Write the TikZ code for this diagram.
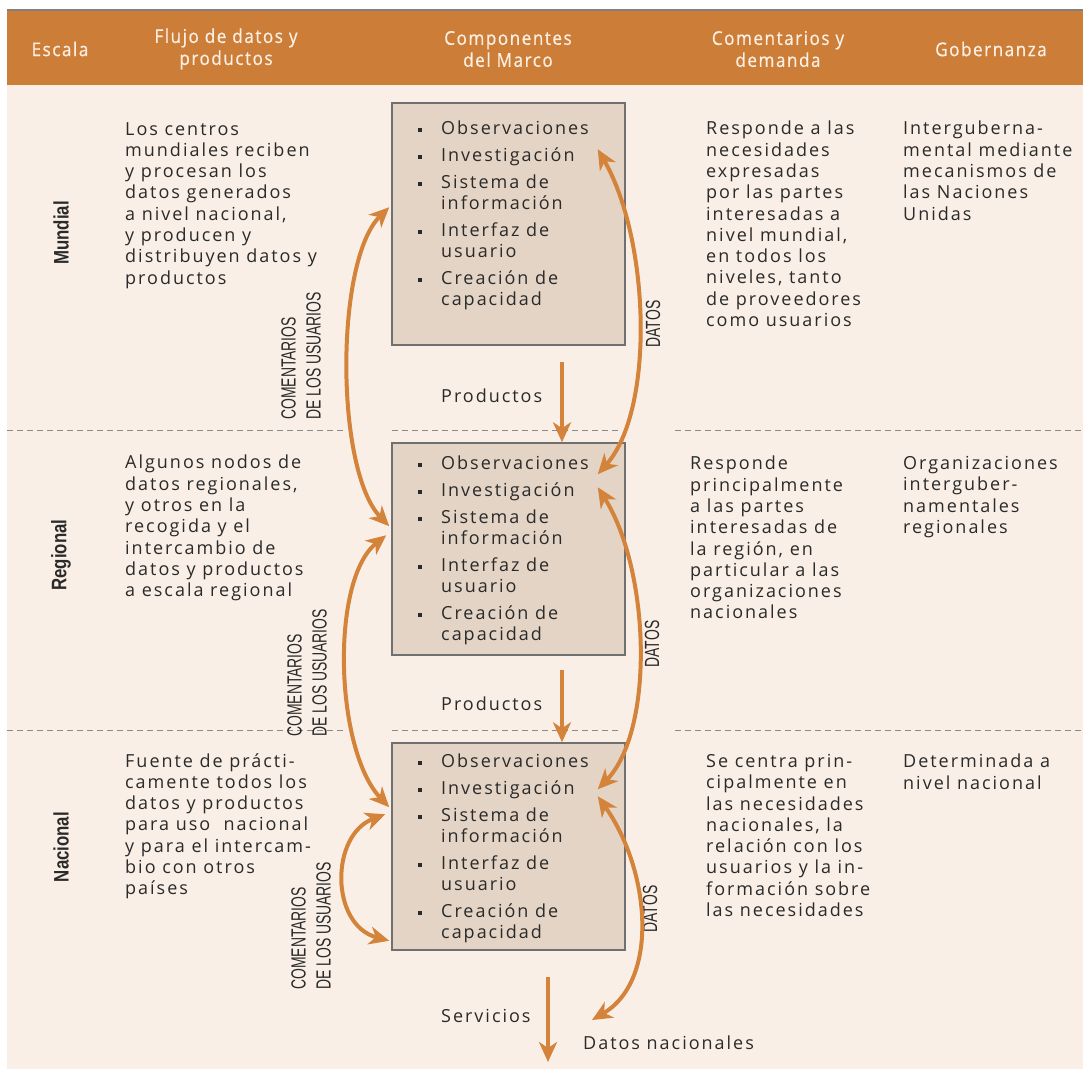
\documentclass[tikz,border=0pt]{standalone}
\usepackage{fontspec}
\setmainfont[LetterSpace=11]{Open Sans}
\newfontfamily\hdfont[FakeStretch=0.9,LetterSpace=8,FakeBold=0.6]{Open Sans}
\newfontfamily\cfont[FakeStretch=0.68]{Liberation Sans}
\newfontfamily\sfont[FakeStretch=0.8]{Liberation Sans}
\usetikzlibrary{arrows.meta,calc}
\definecolor{cream}{HTML}{F9EFE6}
\definecolor{hdr}{HTML}{CC7E38}
\definecolor{hdtext}{HTML}{FBEFE3}
\definecolor{arr}{HTML}{D4833A}
\definecolor{boxfill}{HTML}{E3D4C5}
\definecolor{boxline}{HTML}{707070}
\definecolor{txtc}{HTML}{2A2A2A}
\definecolor{sepc}{HTML}{8A8A8A}
\newcommand{\bul}{\makebox[23pt][l]{\raisebox{3pt}{\rule{3.8pt}{3.8pt}}}}
\newcommand{\ind}{\hspace*{23pt}}
\newcommand{\gap}{\\[6pt]}
\begin{document}
\begin{tikzpicture}[x=1pt,y=-1pt,
  txt/.style={anchor=north west, align=left, inner sep=0pt, text=txtc,
    font=\fontsize{18}{21.3}\selectfont},
  lst/.style={anchor=north west, align=left, inner sep=0pt, text=txtc,
    font=\fontsize{18}{21}\selectfont},
  lbl/.style={anchor=base west, inner sep=0pt, text=txtc,
    font=\fontsize{18}{21.3}\selectfont},
  hd/.style={align=center, inner sep=0pt, text=hdtext,
    font=\hdfont\fontsize{19}{22}\selectfont},
  scl/.style={rotate=90, inner sep=0pt, text=txtc,
    font=\sfont\bfseries\fontsize{21}{24}\selectfont},
  clab/.style={rotate=90, anchor=west, align=left, inner sep=0pt, text=txtc,
    font=\cfont\fontsize{20.5}{25}\selectfont},
  dlab/.style={rotate=90, inner sep=0pt, text=txtc,
    font=\cfont\fontsize{20.5}{25}\selectfont},
  comp/.style={draw=boxline, line width=1.5pt, fill=boxfill, inner sep=0pt,
    minimum width=233pt},
  sepline/.style={draw=sepc, line width=1pt, dash pattern=on 6pt off 4pt},
  flow/.style={draw=arr, line width=4pt,
    arrows={Stealth[length=20pt,width=18pt,inset=6pt]-Stealth[length=20pt,width=18pt,inset=6pt]}},
  oneway/.style={draw=arr, line width=4pt,
    arrows={-Stealth[length=20pt,width=18pt,inset=6pt]}}
]
\useasboundingbox (0,0) rectangle (1083,1070);
\fill[white] (0,0) rectangle (1083,1070);
\fill[cream] (7,10) rectangle (1083,1069);
\fill[hdr] (7,10) rectangle (1083,85);
\draw[draw=gray, line width=2pt] (7,10) -- (1083,10);

% header
\node[hd] (h1) at (60,49) {Escala};
\node[hd] (h2) at (226,49) {Flujo de datos y\\productos};
\node[hd] (h3) at (508,49) {Componentes\\del Marco};
\node[hd] (h4) at (778,49) {Comentarios y\\demanda};
\node[hd] (h5) at (991,49) {Gobernanza};

% separators
\foreach \yy in {430,730}{
  \draw[sepline] (7,\yy) -- (345,\yy);
  \draw[sepline] (392,\yy) -- (620,\yy);
  \draw[sepline] (675,\yy) -- (1083,\yy);
}

% scale labels
\node[scl] (mund) at (61,233) {Mundial};
\node[scl] (regi) at (61,555) {Regional};
\node[scl] (naci) at (61,847) {Nacional};

% column 2
\node[txt] (f1) at (125,122) {Los centros\\mundiales reciben\\y procesan los\\datos generados\\a nivel nacional,\\y producen y\\distribuyen datos y\\productos};
\node[txt] (f2) at (125,455) {Algunos nodos de\\datos regionales,\\y otros en la\\recogida y el\\intercambio de\\datos y productos\\a escala regional};
\node[txt] (f3) at (125,753) {Fuente de prácti-\\camente todos los\\datos y productos\\para uso\ \ nacional\\y para el intercam-\\bio con otros\\países};

% boxes
\node[comp, minimum height=242pt] (box1) at (508.5,224) {};
\node[comp, minimum height=212pt] (box2) at (508.5,549) {};
\node[comp, minimum height=207pt] (box3) at (508.5,846.5) {};
\node[lst] (l1) at (418,121) {\bul Observaciones\gap\bul Investigación\gap\bul Sistema de\\\ind información\gap\bul Interfaz de\\\ind usuario\gap\bul Creación de\\\ind capacidad};
\node[lst] (l2) at (418,456) {\bul Observaciones\gap\bul Investigación\gap\bul Sistema de\\\ind información\gap\bul Interfaz de\\\ind usuario\gap\bul Creación de\\\ind capacidad};
\node[lst] (l3) at (418,754) {\bul Observaciones\gap\bul Investigación\gap\bul Sistema de\\\ind información\gap\bul Interfaz de\\\ind usuario\gap\bul Creación de\\\ind capacidad};

% column 4
\node[txt] (c1) at (706,121) {Responde a las\\necesidades\\expresadas\\por las partes\\interesadas a\\nivel mundial,\\en todos los\\niveles, tanto\\de proveedores\\como usuarios};
\node[txt] (c2) at (690,456) {Responde\\principalmente\\a las partes\\interesadas de\\la región, en\\particular a las\\organizaciones\\nacionales};
\node[txt] (c3) at (706,754) {Se centra prin-\\cipalmente en\\las necesidades\\nacionales, la\\relación con los\\usuarios y la in-\\formación sobre\\las necesidades};

% column 5
\node[txt] (g1) at (903,121) {Interguberna-\\mental mediante\\mecanismos de\\las Naciones\\Unidas};
\node[txt] (g2) at (903,456) {Organizaciones\\interguber-\\namentales\\regionales};
\node[txt] (g3) at (903,754) {Determinada a\\nivel nacional};

% rotated labels
\node[clab] (com1) at (301,420) {COMENTARIOS\\DE LOS USUARIOS};
\node[clab] (com2) at (307,737) {COMENTARIOS\\DE LOS USUARIOS};
\node[clab] (com3) at (311,990) {COMENTARIOS\\DE LOS USUARIOS};
\node[dlab] (dat1) at (653,324) {DATOS};
\node[dlab] (dat2) at (652,644) {DATOS};
\node[dlab] (dat3) at (650,909) {DATOS};

% flow labels
\node[lbl] (pr1) at (441,402) {Productos};
\node[lbl] (pr2) at (441,710) {Productos};
\node[lbl] (serv) at (441,1022) {Servicios};
\node[lbl] (dnac) at (583,1049) {Datos nacionales};

% connector end points
\coordinate (a1s) at ($(box1.north west)+(-2,105)$);
\coordinate (a1e) at ($(box2.north west)+(-2,84)$);
\coordinate (a2s) at ($(box2.north west)+(-5,93)$);
\coordinate (a2e) at ($(box3.north west)+(-2,65)$);
\coordinate (a3s) at ($(box3.north west)+(-6,72)$);
\coordinate (a3e) at ($(box3.south west)+(-2,-10)$);
\coordinate (d1s) at ($(box1.north east)+(-28,47)$);
\coordinate (d1e) at ($(box2.north east)+(-28,32)$);
\coordinate (d2s) at ($(box2.north east)+(-28,45)$);
\coordinate (d2e) at ($(box3.north east)+(-28,47)$);
\coordinate (d3s) at ($(box3.north east)+(-28,54)$);
\coordinate (d3e) at (592,1020);
\coordinate (p1s) at (562,362);
\coordinate (p2s) at (562,670);
\coordinate (s1) at (548,977);
\coordinate (s2) at (548,1062);

% feedback arrows
\draw[flow] (a1s) .. controls (335,260) and (335,470) .. (a1e);
\draw[flow] (a2s) .. controls (330,580) and (335,750) .. (a2e);
\draw[flow] (a3s) .. controls (330,835) and (330,925) .. (a3e);
% data arrows
\draw[flow] (d1s) .. controls (650,240) and (655,410) .. (d1e);
\draw[flow] (d2s) .. controls (650,570) and (655,730) .. (d2e);
\draw[flow] (d3s) .. controls (650,870) and (660,980) .. (d3e);
% products
\draw[oneway] (p1s) -- (p1s |- box2.north);
\draw[oneway] (p2s) -- (p2s |- box3.north);
\draw[oneway] (s1) -- (s2);
\end{tikzpicture}
\end{document}
